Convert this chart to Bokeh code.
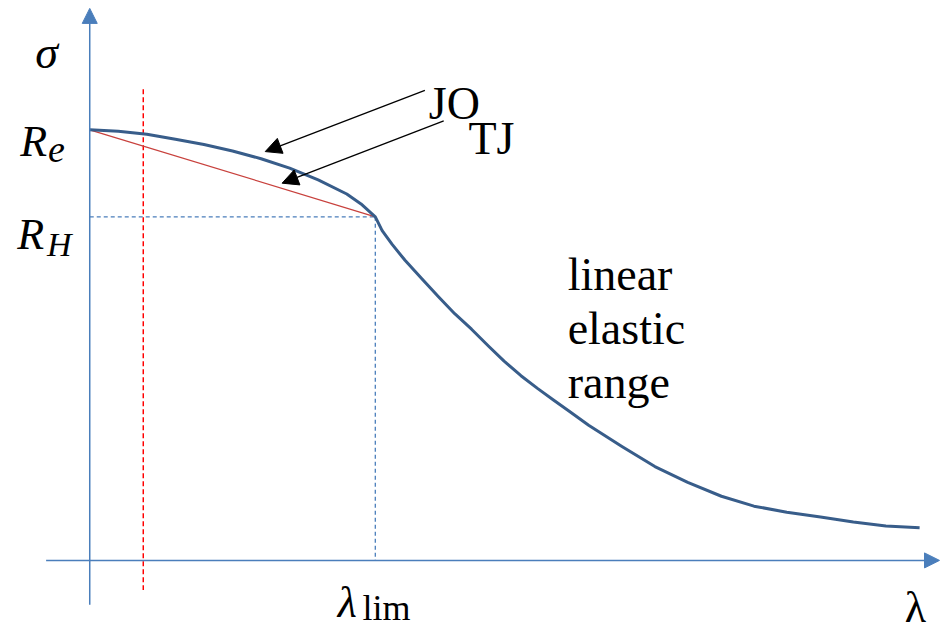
from bokeh.plotting import figure
from bokeh.models import Range1d, Arrow, NormalHead
from bokeh.core.properties import value
from bokeh.embed import file_html
from bokeh.resources import INLINE

# ---------------- data (slenderness λ vs stress σ, normalised) ----------------
lam_curve = [0.0, 0.1, 0.2, 0.3, 0.4, 0.5, 0.6, 0.7, 0.8, 0.9, 0.95, 1.0,
             1.024, 1.059, 1.104, 1.163, 1.222, 1.278, 1.337, 1.396, 1.451, 1.510, 1.569,
             1.625, 1.684, 1.747, 1.865, 1.979, 2.094, 2.212, 2.326, 2.441, 2.559, 2.674,
             2.788, 2.906]
sig_curve = [1.000, 0.997, 0.990, 0.978, 0.966, 0.951, 0.933, 0.911, 0.884, 0.851, 0.828, 0.798,
             0.766, 0.734, 0.697, 0.654, 0.612, 0.573, 0.537, 0.498, 0.463, 0.429, 0.399,
             0.372, 0.344, 0.314, 0.264, 0.218, 0.181, 0.149, 0.126, 0.112, 0.101, 0.089,
             0.080, 0.076]
RE = 1.0          # σ at λ = 0
RH = 0.798        # σ at λ_lim
LAM_LIM = 1.0
LAM_MARK = 0.1875 # red dashed vertical
axis_labels = ["σ", "λ"]
level_labels = [("R", "e"), ("R", "H")]
range_label = ["linear", "elastic", "range"]
arrow_labels = ["JO", "TJ"]

# ---------------- layout (reference pixels -> data) ----------------
W, H = 940, 631
OX, OY = 90, 567        # origin in reference pixels
SX, SY = 288.0, 436.0   # reference pixels per unit


def lx(px):
    return (px - OX) / SX


def sy(py):
    return (OY - py) / SY


p = figure(width=W, height=H, x_range=Range1d(lx(0), lx(948)), y_range=Range1d(sy(639), sy(0)),
           output_backend="svg", toolbar_location=None, min_border=0,
           x_axis_location=None, y_axis_location=None)
p.grid.visible = False
p.outline_line_color = None
p.background_fill_color = "white"
p.border_fill_color = "white"

AX = "#4a7ebb"
# axes as arrows
p.add_layout(Arrow(end=NormalHead(size=15, fill_color=AX, line_color=AX, line_width=1),
                   x_start=lx(46), y_start=0, x_end=lx(947), y_end=0,
                   line_color=AX, line_width=1.5))
p.add_layout(Arrow(end=NormalHead(size=15, fill_color=AX, line_color=AX, line_width=1),
                   x_start=0, y_start=sy(612), x_end=0, y_end=sy(8),
                   line_color=AX, line_width=1.5))

# helper lines
p.line([0, LAM_LIM], [RH, RH], line_color=AX, line_width=1.3, line_dash="4 3")
p.line([LAM_LIM, LAM_LIM], [RH, 0], line_color=AX, line_width=1.3, line_dash="4 3")
p.line([LAM_MARK, LAM_MARK], [sy(90), sy(597)], line_color="#ff0000", line_width=1.5, line_dash="5 3")
p.line([0, LAM_LIM], [RE, RH], line_color="#c8413d", line_width=1.2)

# main curve
p.line(lam_curve, sig_curve, line_color="#385d8a", line_width=3, line_join="round")

# annotation arrows
for (x0, y0, x1, y1) in [(428, 91, 267, 153), (447, 122, 284, 185)]:
    p.add_layout(Arrow(end=NormalHead(size=16, fill_color="black", line_color="black", line_width=1),
                       x_start=lx(x0), y_start=sy(y0), x_end=lx(x1), y_end=sy(y1),
                       line_color="black", line_width=1.3))

SERIF = value("Liberation Serif")


def txt(x, y, s, size, style="normal"):
    p.text(x=[x], y=[y], text=[s], text_font=SERIF, text_font_size=f"{size}px",
           text_font_style=style, text_color="black",
           text_align="left", text_baseline="alphabetic")


# text labels
txt(lx(432), sy(104), arrow_labels[0], 46)
txt(lx(472), sy(140), arrow_labels[1], 46)
for i, s in enumerate(range_label):
    txt(lx(572), sy(277 + 55 * i), s, 46)

txt(lx(35), sy(53), axis_labels[0], 46, "italic")
txt(lx(912), sy(615), axis_labels[1], 44)

txt(lx(20), sy(143), level_labels[0][0], 44, "italic")
txt(lx(48), sy(151), level_labels[0][1], 38, "italic")
txt(lx(17), sy(237), level_labels[1][0], 44, "italic")
txt(lx(47), sy(247), level_labels[1][1], 34, "italic")

txt(lx(340), sy(610), "λ", 44, "italic")
txt(lx(365), sy(615), "lim", 36)

open("out.html", "w").write(file_html(p, INLINE))
